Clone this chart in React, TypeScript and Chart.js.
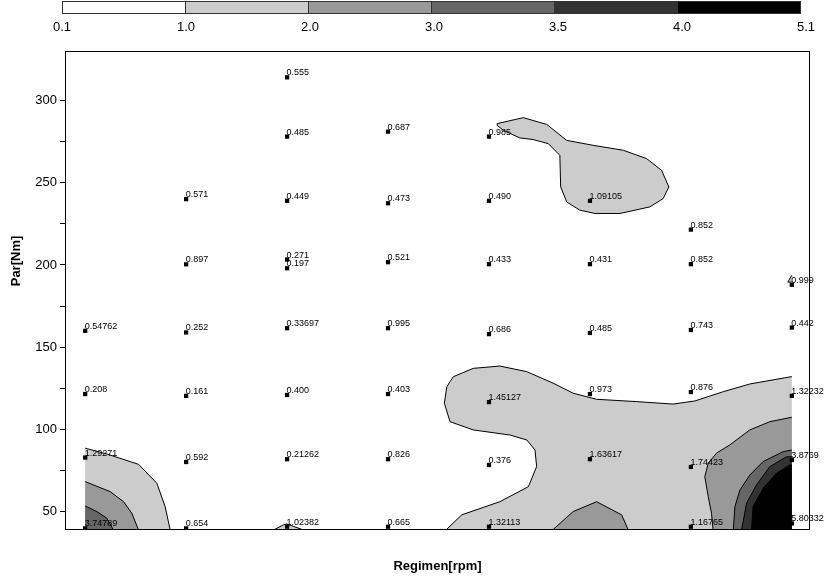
import React, { useEffect, useRef } from 'react';
import { Chart, registerables } from 'chart.js';

Chart.register(...registerables);

// ---- data ----
const xAxisRange = [900, 4590];
const yAxisRange = [39, 330];
const levelLabels = ['0.1', '1.0', '2.0', '3.0', '3.5', '4.0', '5.1'];
const levelColors = ['#ffffff', '#cccccc', '#999999', '#666666', '#333333', '#000000'];

const pointRpm = [
  2000, 2000, 2500, 3000,
  1500, 2000, 2500, 3000, 3500, 4000,
  1500, 2000, 2000, 2500, 3000, 3500, 4000, 4500,
  1000, 1500, 2000, 2500, 3000, 3500, 4000, 4500,
  1000, 1500, 2000, 2500, 3000, 3500, 4000, 4500,
  1000, 1500, 2000, 2500, 3000, 3500, 4000, 4500,
  1000, 1500, 2000, 2500, 3000, 4000, 4500,
];
const pointTorque = [
  314, 278, 281, 278,
  240, 239, 237.5, 239, 239, 221.5,
  200.4, 203.3, 198, 201.7, 200.5, 200.5, 200.5, 188,
  160, 159, 161.6, 161.6, 158, 158.7, 160.5, 162,
  121.6, 120.5, 121, 121.6, 116.7, 121.6, 122.8, 120.5,
  83, 80.3, 82, 82, 78.5, 82, 77.3, 81.5,
  40, 40, 41, 41, 41, 41, 43,
];
const pointLabels = [
  '0.555', '0.485', '0.687', '0.985',
  '0.571', '0.449', '0.473', '0.490', '1.09105', '0.852',
  '0.897', '0.271', '0.197', '0.521', '0.433', '0.431', '0.852', '0.999',
  '0.54762', '0.252', '0.33697', '0.995', '0.686', '0.485', '0.743', '0.442',
  '0.208', '0.161', '0.400', '0.403', '1.45127', '0.973', '0.876', '1.32232',
  '1.29271', '0.592', '0.21262', '0.826', '0.376', '1.63617', '1.74423', '3.8769',
  '3.74789', '0.654', '1.02382', '0.665', '1.32113', '1.16765', '5.80332',
];

// contour regions (rpm, Nm) for each level band
const level1Left = [[1000, 88.7], [1107, 85.2], [1264, 78.9], [1355, 67.4], [1396, 53.2], [1421, 39], [1000, 39], [1000, 88.7]];
const level1Bump = [[1932, 39], [1982, 42.1], [1998, 42.7], [2081, 39], [1932, 39]];
const level1Main = [
  [2787, 39], [2865, 48.2], [3054, 56.2], [3195, 65.3], [3236, 77.5], [3228, 87.6], [3187, 93.7],
  [3104, 96.7], [2922, 99.8], [2807, 104.8], [2779, 116], [2791, 126], [2823, 132.1], [2922, 137.2],
  [3054, 138.6], [3187, 135.2], [3318, 128.2], [3417, 122.1], [3533, 118.4], [3731, 117], [3912, 115.5],
  [4020, 117.4], [4160, 123], [4292, 127.7], [4500, 132.2], [4500, 39], [2787, 39],
];
const level1Island = [
  [3041, 285.9], [3170, 289.5], [3286, 285.4], [3385, 275.7], [3516, 272.7], [3665, 269.7], [3781, 264.6],
  [3855, 257.5], [3891, 247.4], [3863, 240.4], [3797, 235.3], [3649, 231.3], [3525, 231.3], [3450, 233.3],
  [3385, 238.3], [3355, 247.4], [3351, 266.6], [3294, 273.7], [3219, 276.2], [3153, 277.2], [3071, 281.8],
  [3041, 284.8], [3041, 285.9],
];
const level1Sliver = [[4500, 193.8], [4480, 189.6], [4500, 189.6], [4500, 193.8]];
const level2Left = [[1000, 68.4], [1124, 62.3], [1190, 56.2], [1231, 49.2], [1264, 39], [1000, 39], [1000, 68.4]];
const level2Mid = [[3315, 39], [3417, 50.2], [3533, 56.2], [3657, 48.2], [3690, 39], [3315, 39]];
const level2Right = [
  [4500, 107.5], [4391, 104.8], [4292, 99.8], [4193, 90.7], [4127, 85.7], [4086, 79.6], [4069, 71.4],
  [4086, 59.3], [4102, 49.2], [4110, 39], [4500, 39], [4500, 107.5],
];
const level3Left = [[1000, 53.6], [1058, 50.2], [1107, 46.2], [1140, 39], [1000, 39], [1000, 53.6]];
const level3Right = [[4500, 87.6], [4457, 86.6], [4358, 80.6], [4292, 72.4], [4243, 63.3], [4218, 53.2], [4210, 39], [4500, 39], [4500, 87.6]];
const level4Right = [[4500, 83.5], [4474, 83.5], [4391, 77.5], [4325, 66.4], [4276, 55.3], [4251, 39], [4500, 39], [4500, 83.5]];
const level5Right = [[4500, 78.5], [4490, 78.5], [4424, 73.5], [4358, 64.4], [4308, 53.2], [4300, 39], [4500, 39], [4500, 78.5]];

const contourBands = [
  { level: 1, shapes: [level1Left, level1Bump, level1Main, level1Island, level1Sliver] },
  { level: 2, shapes: [level2Left, level2Mid, level2Right] },
  { level: 3, shapes: [level3Left, level3Right] },
  { level: 4, shapes: [level4Right] },
  { level: 5, shapes: [level5Right] },
];

const FONT = '"Liberation Sans", Arial, sans-serif';

export default function App() {
  const canvasRef = useRef<HTMLCanvasElement | null>(null);

  useEffect(() => {
    document.body.style.margin = '0';
    const canvas = canvasRef.current;
    if (!canvas) return;

    const isEdge = (a: any, b: any) =>
      (a.x === b.x && (a.x === 1000 || a.x === 4500)) || (a.y === b.y && a.y === 39);

    const polygonSets: any[] = [];
    contourBands.forEach((band) => {
      band.shapes.forEach((shape) => {
        const pts = shape.map(([x, y]) => ({ x, y }));
        polygonSets.push({
          type: 'line',
          data: pts,
          backgroundColor: levelColors[band.level],
          borderColor: 'rgba(0,0,0,0)',
          borderWidth: 0,
          fill: 'shape',
          tension: 0,
          pointRadius: 0,
          pointHoverRadius: 0,
          pointHitRadius: 0,
          order: 10 - band.level,
        });
        polygonSets.push({
          type: 'line',
          data: pts,
          borderColor: '#000',
          borderWidth: 1,
          fill: false,
          tension: 0,
          pointRadius: 0,
          pointHoverRadius: 0,
          pointHitRadius: 0,
          order: 10 - band.level - 0.5,
          segment: {
            borderColor: (c: any) => (isEdge(c.p0.parsed, c.p1.parsed) ? 'rgba(0,0,0,0)' : '#000'),
          },
        });
      });
    });

    const pointsIndex = 0;
    const datasets: any[] = [
      {
        type: 'scatter',
        data: pointRpm.map((x, i) => ({ x, y: pointTorque[i] })),
        pointStyle: 'rect',
        pointRadius: 3,
        backgroundColor: '#000',
        borderColor: '#000',
        borderWidth: 0,
        order: 0,
      },
      ...polygonSets,
    ];

    const overlayPlugin = {
      id: 'overlay',
      afterDatasetsDraw(chart: any) {
        const ctx = chart.ctx;
        const { left, top, right, bottom } = chart.chartArea;
        ctx.save();
        ctx.strokeStyle = '#000';
        ctx.lineWidth = 1;
        ctx.strokeRect(left + 0.5, top + 0.5, right - left - 1, bottom - top - 1);
        const meta = chart.getDatasetMeta(pointsIndex);
        ctx.font = '9px ' + FONT;
        ctx.fillStyle = '#000';
        ctx.textAlign = 'left';
        ctx.textBaseline = 'alphabetic';
        meta.data.forEach((el: any, i: number) => {
          ctx.fillText(pointLabels[i], el.x - 0.5, el.y - 2);
        });
        ctx.font = 'bold 13px ' + FONT;
        ctx.translate(16, 261);
        ctx.rotate(-Math.PI / 2);
        ctx.textAlign = 'center';
        ctx.textBaseline = 'middle';
        ctx.fillText('Par[Nm]', 0, 0);
        ctx.restore();
      },
    };

    const chart = new Chart(canvas, {
      type: 'scatter',
      data: { datasets },
      options: {
        animation: false,
        responsive: false,
        devicePixelRatio: 1,
        layout: { padding: { left: 0, top: 51, right: 17, bottom: 0 } },
        plugins: { legend: { display: false }, tooltip: { enabled: false } },
        scales: {
          x: {
            type: 'linear',
            min: xAxisRange[0],
            max: xAxisRange[1],
            afterFit: (s: any) => { s.height = 49; },
            afterBuildTicks: (s: any) => { s.ticks = s.ticks.filter((t: any) => t.value % 250 === 0); },
            border: { display: false },
            grid: { drawOnChartArea: false, drawTicks: true, tickLength: 5, color: '#000', tickColor: '#000' },
            ticks: {
              stepSize: 250,
              autoSkip: false,
              maxRotation: 0,
              padding: 8,
              color: '#000',
              font: { family: FONT, size: 13 },
              callback: (v: any) => (Number(v) % 500 === 0 ? String(v) : ''),
            },
            title: {
              display: true,
              text: 'Regimen[rpm]',
              color: '#000',
              font: { family: FONT, size: 13, weight: 'bold' },
              padding: { top: 0, bottom: 5 },
            },
          },
          y: {
            type: 'linear',
            min: yAxisRange[0],
            max: yAxisRange[1],
            afterFit: (s: any) => { s.width = 65; },
            afterBuildTicks: (s: any) => { s.ticks = s.ticks.filter((t: any) => t.value % 25 === 0); },
            border: { display: false },
            grid: { drawOnChartArea: false, drawTicks: true, tickLength: 5, color: '#000', tickColor: '#000' },
            ticks: {
              stepSize: 25,
              autoSkip: false,
              padding: 3,
              color: '#000',
              font: { family: FONT, size: 13 },
              callback: (v: any) => (Number(v) % 50 === 0 ? String(v) : ''),
            },
          },
        },
      },
      plugins: [overlayPlugin],
    } as any);

    return () => chart.destroy();
  }, []);

  const segW = 124;
  const barLeft = 62;

  return (
    <div style={{ position: 'relative', width: 827, height: 579, overflow: 'hidden', background: '#fff' }}>
      <canvas ref={canvasRef} width={827} height={579} style={{ position: 'absolute', left: 0, top: 0, display: 'block' }} />
      <div style={{ position: 'absolute', left: barLeft, top: 1, width: segW * 6, height: 13, display: 'flex' }}>
        {levelColors.map((c, i) => (
          <div key={i} style={{ width: segW, height: 13, boxSizing: 'border-box', background: c, border: '1px solid #333', marginLeft: i === 0 ? 0 : -1 }} />
        ))}
      </div>
      {levelLabels.map((t, i) => (
        <div key={t} style={{ position: 'absolute', left: barLeft + i * segW, top: 19, transform: 'translateX(-50%)', font: '13px ' + FONT, color: '#000', lineHeight: '15px' }}>
          {t}
        </div>
      ))}
    </div>
  );
}
